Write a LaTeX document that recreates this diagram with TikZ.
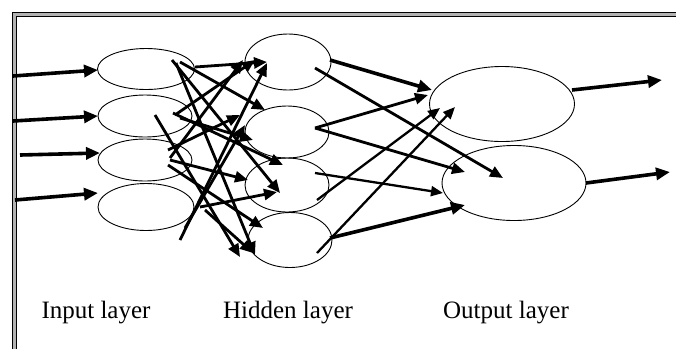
\documentclass[tikz,border=0pt]{standalone}
\usepackage{fontspec}
\setmainfont{Liberation Serif}
\usetikzlibrary{shapes.geometric,arrows.meta}
\begin{document}
\begin{tikzpicture}[x=1pt,y=-1pt,
  neuron/.style={draw=black,line width=0.9pt,ellipse,inner sep=0pt},
  conn/.style={line width=2.8pt,-{Triangle[length=13pt,width=11pt]}},
  thinconn/.style={line width=2.3pt,-{Triangle[length=12pt,width=10pt]}},
  boldconn/.style={line width=3.6pt,-{Triangle[length=14pt,width=12pt]}},
  lbl/.style={font=\fontsize{25}{30}\selectfont,inner sep=0pt,anchor=base}]
\useasboundingbox (0,0) rectangle (676,349);
% frame
\draw[line width=4pt,gray!60] (14,349) -- (14,14) -- (676,14);
\draw[line width=1pt] (12.5,349) -- (12.5,12.5) -- (676,12.5);
\draw[line width=1pt] (16,349) -- (16,16) -- (676,16);
% neurons
\node[neuron,minimum width=97pt,minimum height=41pt] (I1) at (146,69) {};
\node[neuron,minimum width=94pt,minimum height=42pt] (I2) at (145,116) {};
\node[neuron,minimum width=94pt,minimum height=42pt] (I3) at (145,160) {};
\node[neuron,minimum width=96pt,minimum height=47pt] (I4) at (146,207) {};
\node[neuron,minimum width=86pt,minimum height=56pt] (H1) at (288,62) {};
\node[neuron,minimum width=84pt,minimum height=52pt] (H2) at (287,132) {};
\node[neuron,minimum width=84pt,minimum height=54pt] (H3) at (287,185) {};
\node[neuron,minimum width=84pt,minimum height=55pt] (H4) at (290,240) {};
\node[neuron,minimum width=145pt,minimum height=75pt] (O1) at (502,104) {};
\node[neuron,minimum width=144pt,minimum height=75pt] (O2) at (514,183) {};
% free ends
\coordinate (s1) at (13,76);
\coordinate (s2) at (13,121);
\coordinate (s3) at (20,155);
\coordinate (s4) at (15,200);
\coordinate (e1) at (662,80);
\coordinate (e2) at (670,172);
% input arrows
\draw[boldconn] (s1) -- ([shift={(-48,1)}]I1.center);
\draw[boldconn] (s2) -- ([shift={(-47,0)}]I2.center);
\draw[boldconn] (s3) -- ([shift={(-45,-7)}]I3.center);
\draw[boldconn] (s4) -- ([shift={(-48,-14)}]I4.center);
% input -> hidden
\draw[conn] ([shift={(49,-2)}]I1.center) -- ([shift={(-21,0)}]H1.center);
\draw[conn] ([shift={(34,-7)}]I1.center) -- ([shift={(-22,-22)}]H2.center);
\draw[conn] ([shift={(26,-9)}]I1.center) -- ([shift={(-7,8)}]H3.center);
\draw[conn] ([shift={(30,-6)}]I1.center) -- ([shift={(-35,15)}]H4.center);
\draw[conn] ([shift={(30,-1)}]I2.center) -- ([shift={(-33,-2)}]H1.center);
\draw[conn] ([shift={(28,-3)}]I2.center) -- ([shift={(-4,-20)}]H3.center);
\draw[conn] ([shift={(10,-1)}]I2.center) -- ([shift={(-50,17)}]H4.center);
\draw[conn] ([shift={(35,2)}]I2.center) -- ([shift={(-34,8)}]H2.center);
\draw[conn] ([shift={(25,-2)}]I3.center) -- ([shift={(-45,-2)}]H1.center);
\draw[conn] ([shift={(23,-10)}]I3.center) -- ([shift={(-47,-17)}]H2.center);
\draw[conn] ([shift={(25,0)}]I3.center) -- ([shift={(-39,-5)}]H3.center);
\draw[conn] ([shift={(23,5)}]I3.center) -- ([shift={(-27,-12)}]H4.center);
\draw[conn] ([shift={(34,33)}]I4.center) -- ([shift={(-21,1)}]H1.center);
\draw[conn] ([shift={(39,21)}]I4.center) -- ([shift={(-42,-7)}]H2.center);
\draw[conn] ([shift={(54,0)}]I4.center) -- ([shift={(-10,7)}]H3.center);
\draw[conn] ([shift={(59,3)}]I4.center) -- ([shift={(-37,13)}]H4.center);
% hidden -> output
\draw[boldconn] ([shift={(42,-2)}]H1.center) -- ([shift={(-70,-14)}]O1.center);
\draw[conn] ([shift={(27,6)}]H1.center) -- ([shift={(-11,-5)}]O2.center);
\draw[conn] ([shift={(28,-4)}]H2.center) -- ([shift={(-74,-9)}]O1.center);
\draw[conn] ([shift={(28,-4)}]H2.center) -- ([shift={(-49,-11)}]O2.center);
\draw[thinconn] ([shift={(28,-12)}]H3.center) -- ([shift={(-71,10)}]O2.center);
\draw[thinconn] ([shift={(30,15)}]H3.center) -- ([shift={(-62,4)}]O1.center);
\draw[boldconn] ([shift={(40,-2)}]H4.center) -- ([shift={(-49,22)}]O2.center);
\draw[thinconn] ([shift={(27,13)}]H4.center) -- ([shift={(-47,3)}]O1.center);
% output arrows
\draw[boldconn] ([shift={(70,-14)}]O1.center) -- (e1);
\draw[boldconn] ([shift={(72,0)}]O2.center) -- (e2);
% labels
\node[lbl] (L1) at (96,318) {Input layer};
\node[lbl] (L2) at (288,318) {Hidden layer};
\node[lbl] (L3) at (506,318) {Output layer};
\end{tikzpicture}
\end{document}
